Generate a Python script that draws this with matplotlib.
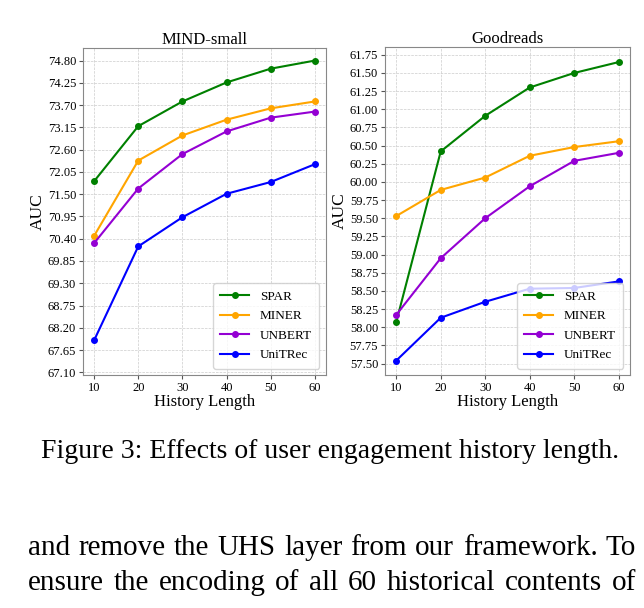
import matplotlib.pyplot as plt

plt.rcParams['font.family'] = ['Liberation Serif', 'DejaVu Serif']

history = [10, 20, 30, 40, 50, 60]
models = ['SPAR', 'MINER', 'UNBERT', 'UniTRec']
colors = ['green', 'orange', '#9400d3', 'blue']

mind_auc = {
    'SPAR': [71.82, 73.18, 73.79, 74.26, 74.60, 74.80],
    'MINER': [70.47, 72.33, 72.95, 73.34, 73.62, 73.79],
    'UNBERT': [70.29, 71.64, 72.49, 73.05, 73.39, 73.54],
    'UniTRec': [67.89, 70.21, 70.93, 71.51, 71.80, 72.24],
}
goodreads_auc = {
    'SPAR': [58.07, 60.42, 60.91, 61.30, 61.50, 61.65],
    'MINER': [59.53, 59.89, 60.06, 60.36, 60.48, 60.56],
    'UNBERT': [58.17, 58.95, 59.50, 59.94, 60.29, 60.40],
    'UniTRec': [57.54, 58.13, 58.35, 58.53, 58.54, 58.63],
}
mind_ticks = [67.10 + 0.55 * i for i in range(15)]
goodreads_ticks = [57.50 + 0.25 * i for i in range(18)]

caption = 'Figure 3: Effects of user engagement history length.'
body = ['and remove the UHS layer from our framework. To',
        'ensure the encoding of all 60 historical contents of']

fig = plt.figure(figsize=(6.44, 6.08), dpi=100)
ax1 = fig.add_axes([0.129, 0.383, 0.377, 0.538])
ax2 = fig.add_axes([0.598, 0.383, 0.380, 0.540])


def draw(ax, data, ticks, title, ylim):
    for m, c in zip(models, colors):
        ax.plot(history, data[m], marker='o', color=c, lw=1.5, ms=4, label=m)
    ax.set_title(title, fontsize=12, pad=3)
    ax.set_yticks(ticks)
    ax.set_yticklabels(['%.2f' % t for t in ticks])
    ax.set_xticks(history)
    ax.set_ylim(*ylim)
    ax.tick_params(labelsize=9, length=3, color='#555555', pad=2)
    ax.grid(True, ls='--', lw=0.5, color='#cccccc')
    for s in ax.spines.values():
        s.set_color('#888888')
    ax.set_xlabel('History Length', fontsize=12, labelpad=0)
    ax.set_ylabel('AUC', fontsize=12.5, labelpad=1)
    ax.legend(loc='lower right', fontsize=9.5, handlelength=2.2, borderpad=0.55,
              labelspacing=0.55)


draw(ax1, mind_auc, mind_ticks, 'MIND-small', (67.03, 75.11))
draw(ax2, goodreads_auc, goodreads_ticks, 'Goodreads', (57.34, 61.86))

fig.text(0.512, 1 - 452 / 608, caption, ha='center', va='center', fontsize=20)

# justified body lines
fig.canvas.draw()
r = fig.canvas.get_renderer()
x0, x1 = 28, 636
for i, line in enumerate(body):
    y = 1 - (548 + 35 * i) / 608
    words = line.split()
    txts = [fig.text(0, y, w, fontsize=21, va='center') for w in words]
    widths = [t.get_window_extent(r).width for t in txts]
    gap = (x1 - x0 - sum(widths)) / (len(words) - 1)
    x = x0
    for t, w in zip(txts, widths):
        t.set_x(x / 644)
        x += w + gap

fig.savefig('out.png', dpi=100)
